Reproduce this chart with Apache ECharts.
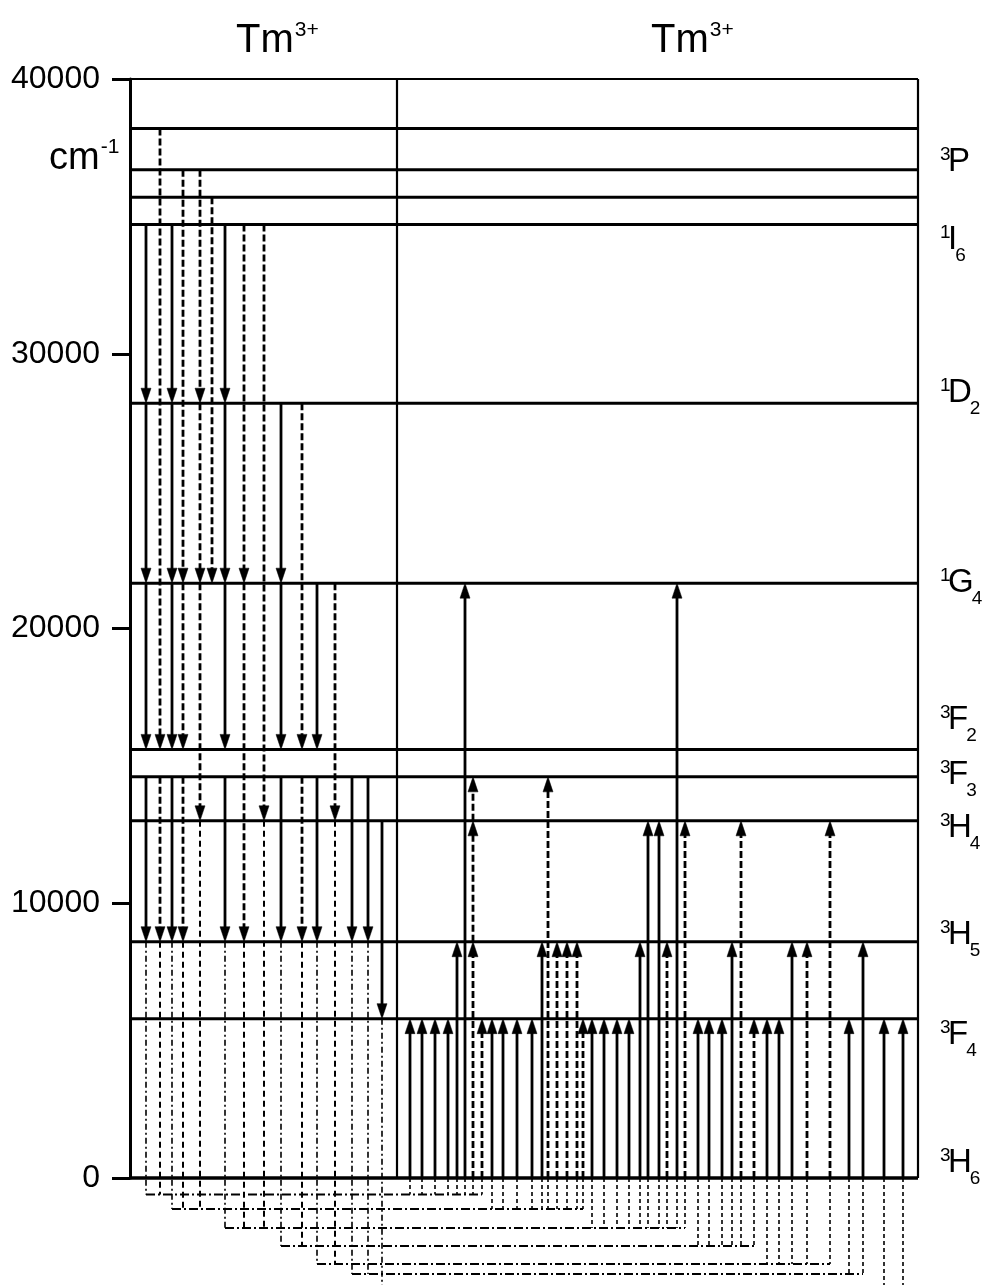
<!DOCTYPE html>
<html><head><meta charset="utf-8">
<script src="https://cdn.jsdelivr.net/npm/echarts@6/dist/echarts.min.js"></script>
<style>html,body{margin:0;padding:0;background:#fff}#c{width:983px;height:1285px}</style>
</head><body><div id="c"></div>
<script>
// ---- data (energies in cm^-1, x = transition column position) ----
const levels = [38200, 36700, 35700, 34700, 28200, 21650, 15600, 14600, 13000, 8600, 5800, 0];
const yTickValues = [0, 10000, 20000, 30000, 40000];
// emission (downward) segments: [column, fromEnergy, toEnergy, dashed]
const emission = [
 [16,34700,28200,0],[16,28200,21650,0],[16,21650,15600,0],[16,14600,8600,0],
 [30,38200,15600,1],[30,14600,8600,1],
 [42,34700,28200,0],[42,28200,21650,0],[42,21650,15600,0],[42,14600,8600,0],
 [53,36700,21650,1],[53,21650,15600,1],[53,14600,8600,1],
 [70,36700,28200,1],[70,28200,21650,1],[70,21650,13000,1],
 [82,35700,21650,1],
 [95,34700,28200,0],[95,28200,21650,0],[95,21650,15600,0],[95,14600,8600,0],
 [114,34700,21650,1],[114,21650,8600,1],
 [134,34700,13000,1],
 [151,28200,21650,0],[151,21650,15600,0],[151,14600,8600,0],
 [172,28200,15600,1],[172,14600,8600,1],
 [187,21650,15600,0],[187,14600,8600,0],
 [205,21650,13000,1],
 [222,14600,8600,0],
 [238,14600,8600,0],
 [252,13000,5800,0]
];
// absorption (upward) segments: [column, fromEnergy, toEnergy, dashed]
const absorption = [
 [280,0,5800,0],[292,0,5800,0],[305,0,5800,0],[318,0,5800,0],[327,0,8600,0],[335,0,21650,0],
 [343,0,8600,1],[343,8600,13000,1],[343,13000,14600,1],
 [352,0,5800,1],[362,0,5800,0],[373,0,5800,0],[387,0,5800,0],[402,0,5800,0],[412,0,8600,0],
 [418,0,14600,1],[427,0,8600,1],[437,0,8600,1],[447,0,8600,1],[453,0,5800,1],
 [462,0,5800,0],[474,0,5800,0],[487,0,5800,0],[499,0,5800,0],[510,0,8600,0],
 [518,0,13000,0],[529,0,13000,0],[537,0,8600,1],[547,0,21650,0],[555,0,13000,1],
 [568,0,5800,0],[579,0,5800,0],[592,0,5800,0],[602,0,8600,0],[611,0,13000,1],[624,0,5800,1],
 [637,0,5800,0],[649,0,5800,0],[662,0,8600,0],[677,0,8600,1],[700,0,13000,1],
 [719,0,5800,0],[733,0,8600,0],[754,0,5800,0],[773,0,5800,0]
];
// energy-transfer links below the ground level: [rowEnergy, donor columns, acceptor columns]
const transferRows = [-600, -1130, -1820, -2475, -3130, -3494, -4150];
const transferDonors = [[16,30],[42,53,70],[95,114,134],[151,172],[187,205],[222,238],[252]];
const transferAcceptors = [
 [280,292,305,318,327,335,343,352],
 [362,373,387,402,412,418,427,437,447,453],
 [462,474,487,499,510,518,529,537,547,555],
 [568,579,592,602,611,624],
 [637,649,662,677,700],
 [719,733],
 [754,773]
];
const termSymbols = [['3','P',''],['1','I','6'],['1','D','2'],['1','G','4'],['3','F','2'],['3','F','3'],['3','H','4'],['3','H','5'],['3','F','4'],['3','H','6']];
const termLabelEnergy = [36980, 34140, 28570, 21660, 16670, 14670, 12740, 8845, 5205, 546];
const ionLabel = ['Tm', '3+'];

// ---- layout ----
const X_MAX = 788, PANEL_SPLIT = 267;
const FONT = '"Liberation Sans", Arial, sans-serif';
const mctx = document.createElement('canvas').getContext('2d');
function tw(t, size){ mctx.font = size + 'px ' + FONT; return mctx.measureText(t).width; }

function arrow(api, x, from, to, dashed){
  const p0 = api.coord([x, from]), p1 = api.coord([x, to]);
  const dir = p1[1] > p0[1] ? 1 : -1;
  const L = 15, W = 5, base = p1[1] - dir * L;
  return [
    {type:'line', shape:{x1:p0[0], y1:p0[1], x2:p1[0], y2:base + dir},
     style:{stroke:'#000', lineWidth:2.8, lineDash: dashed ? [7,3] : null, fill:null}},
    {type:'polygon', shape:{points:[[p1[0], p1[1]], [p1[0]-W, base], [p1[0]+W, base]]},
     style:{fill:'#000', stroke:'#000', lineWidth:0.5}}
  ];
}
function seg(a, b, w, dash){
  return {type:'line', shape:{x1:a[0], y1:a[1], x2:b[0], y2:b[1]},
          style:{stroke:'#000', lineWidth:w, lineDash:dash || null, fill:null}};
}
function lastEnd(col){
  let m = Infinity, d = 0;
  emission.forEach(e => { if (e[0] === col && e[2] < m) { m = e[2]; d = e[3]; } });
  return [m, d];
}

const chart = echarts.init(document.getElementById('c'), null, {renderer:'canvas'});
const option = {
  animation: false,
  backgroundColor: '#fff',
  grid: {left:130, right:65, top:79, bottom:107},
  xAxis: {type:'value', min:0, max:X_MAX, show:false},
  yAxis: {type:'value', min:0, max:40000, interval:10000,
    axisLine:{show:true, lineStyle:{color:'#000', width:3}},
    axisTick:{show:true, length:18, lineStyle:{color:'#000', width:3}},
    axisLabel:{color:'#000', fontSize:32, fontFamily:FONT, margin:30,
      formatter: v => yTickValues.indexOf(v) >= 0 ? String(v) : ''},
    splitLine:{show:false}},
  series: [
    { // frame
      type:'custom', clip:false, silent:true, z:1, data:[[0]],
      renderItem:(p, api) => ({type:'group', children:[
        seg(api.coord([0,40000]), api.coord([X_MAX,40000]), 1.8),
        seg(api.coord([X_MAX,40000]), api.coord([X_MAX,0]), 2.2),
        seg(api.coord([PANEL_SPLIT,40000]), api.coord([PANEL_SPLIT,0]), 2.2)
      ]})
    },
    { // energy levels
      type:'custom', clip:false, silent:true, z:2, data: levels.map(v => [v]),
      renderItem:(p, api) => {
        const e = levels[p.dataIndex];
        return seg(api.coord([0,e]), api.coord([X_MAX,e]), e === 0 ? 3.5 : 3);
      }
    },
    { // emission arrows
      type:'custom', clip:false, silent:true, z:3, data: emission.map(d => d.slice()),
      renderItem:(p, api) => { const d = emission[p.dataIndex];
        return {type:'group', children: arrow(api, d[0], d[1], d[2], d[3])}; }
    },
    { // absorption arrows
      type:'custom', clip:false, silent:true, z:3, data: absorption.map(d => d.slice()),
      renderItem:(p, api) => { const d = absorption[p.dataIndex];
        return {type:'group', children: arrow(api, d[0], d[1], d[2], d[3])}; }
    },
    { // transfer links
      type:'custom', clip:false, silent:true, z:2, data: transferRows.map(v => [v]),
      renderItem:(p, api) => {
        const i = p.dataIndex, row = transferRows[i];
        const donors = transferDonors[i], acc = transferAcceptors[i];
        const ch = [];
        donors.forEach(c => { const le = lastEnd(c);
          ch.push(seg(api.coord([c, le[0]]), api.coord([c, row]), le[1] ? 2 : 1.6, le[1] ? [6,4] : [6,3,2,3])); });
        acc.forEach(c => ch.push(seg(api.coord([c, 0]), api.coord([c, row]), 1.6, [4,3])));
        ch.push(seg(api.coord([donors[0], row]), api.coord([acc[acc.length-1], row]), 2, [9,3,2,3]));
        return {type:'group', children: ch};
      }
    },
    { // term labels
      type:'custom', clip:false, silent:true, z:4, data: termLabelEnergy.map(v => [v]),
      renderItem:(p, api) => {
        const t = termSymbols[p.dataIndex];
        const c = api.coord([X_MAX, termLabelEnergy[p.dataIndex]]);
        const xs = c[0] + 22, xm = c[0] + 30;
        const xsub = xm + tw(t[1], 33) - 2;
        const mk = (txt, x, y, size) => ({type:'text', style:{text:txt, x:x, y:y, fill:'#000',
          font: size + 'px ' + FONT, align:'left', verticalAlign:'middle',
          textAlign:'left', textVerticalAlign:'middle'}});
        return {type:'group', children:[
          mk(t[0], xs, c[1]-7, 19), mk(t[1], xm, c[1], 33), mk(t[2], xsub, c[1]+16, 19)]};
      }
    }
  ],
  graphic: []
};
chart.setOption(option);

// titles and unit
function titleAt(x){
  const w = tw(ionLabel[0], 40);
  return [
    {type:'text', x:x, y:41, style:{text:ionLabel[0], font:'40px '+FONT, fill:'#000', verticalAlign:'middle', textVerticalAlign:'middle'}},
    {type:'text', x:x+w+1, y:30, style:{text:ionLabel[1], font:'21px '+FONT, fill:'#000', verticalAlign:'middle', textVerticalAlign:'middle'}}
  ];
}
const cmW = tw('cm', 38);
chart.setOption({graphic: [].concat(titleAt(236), titleAt(651), [
  {type:'text', x:49, y:159, style:{text:'cm', font:'38px '+FONT, fill:'#000', verticalAlign:'middle', textVerticalAlign:'middle'}},
  {type:'text', x:49+cmW+1, y:147, style:{text:'-1', font:'21px '+FONT, fill:'#000', verticalAlign:'middle', textVerticalAlign:'middle'}}
])});
</script></body></html>
